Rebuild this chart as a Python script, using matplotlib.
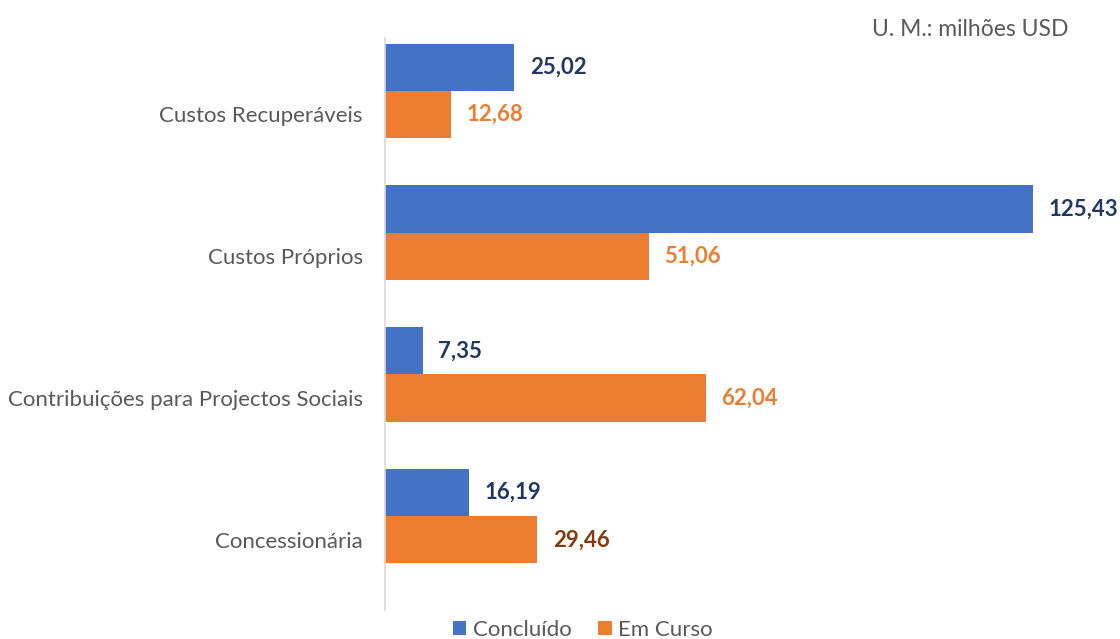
import numpy as np
import matplotlib
matplotlib.use("Agg")
import matplotlib.pyplot as plt

# data (top to bottom as shown)
categories = ["Custos Recuperáveis", "Custos Próprios",
              "Contribuições para Projectos Sociais", "Concessionária"]
concluido = [25.02, 125.43, 7.35, 16.19]
em_curso = [12.68, 51.06, 62.04, 29.46]
concluido_labels = ["25,02", "125,43", "7,35", "16,19"]
em_curso_labels = ["12,68", "51,06", "62,04", "29,46"]

blue = "#4472c4"
orange = "#ed7d31"
grey_text = "#595959"

plt.rcParams["font.family"] = ["Lato", "DejaVu Sans"]

fig = plt.figure(figsize=(11.2, 6.39), dpi=100)
ax = fig.add_axes([385 / 1120, 1 - 610 / 639, (1062 - 385) / 1120, 572 / 639])

n = len(categories)
ypos = np.arange(n)[::-1]  # first category on top
h = 0.333

ax.barh(ypos + h / 2, concluido, height=h, color=blue, label="Concluído")
ax.barh(ypos - h / 2, em_curso, height=h, color=orange, label="Em Curso")

# value labels
blue_lbl_color = "#1f3864"
orange_lbl_colors = [orange, orange, orange, "#843c0c"]
for i in range(n):
    ax.text(concluido[i] + 3.0, ypos[i] + h / 2, concluido_labels[i],
            va="center", ha="left", fontsize=16, fontweight="bold",
            color=blue_lbl_color, clip_on=False)
    ax.text(em_curso[i] + 3.0, ypos[i] - h / 2, em_curso_labels[i],
            va="center", ha="left", fontsize=16, fontweight="bold",
            color=orange_lbl_colors[i], clip_on=False)

ax.set_xlim(0, 131)
ax.set_ylim(-0.662, 3.373)

# category labels sit level with the orange bars
ax.set_yticks(ypos - h / 2)
ax.set_yticklabels(categories, fontsize=16, color=grey_text)
ax.tick_params(axis="y", length=0, pad=16)
ax.set_xticks([])

for s in ["top", "right", "bottom"]:
    ax.spines[s].set_visible(False)
ax.spines["left"].set_color("#d9d9d9")
ax.spines["left"].set_linewidth(1.2)

fig.text(1068 / 1120, 1 - 30 / 639, "U. M.: milhões USD", ha="right", va="center",
         fontsize=16.5, color=grey_text)

fig.legend(loc="center", bbox_to_anchor=(583 / 1120, 1 - 630 / 639), ncol=2,
           frameon=False, fontsize=16, labelcolor=grey_text,
           handlelength=0.6, handleheight=0.6, handletextpad=0.3, columnspacing=1.2)

fig.savefig("out.png", dpi=100)
